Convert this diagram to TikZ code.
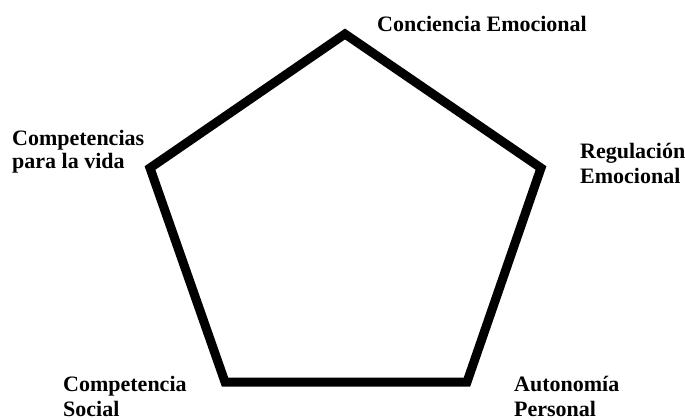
\documentclass[tikz,border=0pt]{standalone}
\usepackage{fontspec}
\setmainfont{Liberation Serif}
\usetikzlibrary{calc}

\begin{document}
\begin{tikzpicture}[x=1pt,y=-1pt,
  side/.style={draw=black,line width=9pt,line join=miter},
  lbl/.style={anchor=base west,inner sep=0pt,align=left,
    font=\fontsize{22}{25}\selectfont\bfseries}]
 \useasboundingbox (0,0) rectangle (685,420);
 % vertices of the pentagon
 \coordinate (top) at (345,34);
 \coordinate (rgt) at (541,168);
 \coordinate (brt) at (467,382);
 \coordinate (blt) at (225,382);
 \coordinate (lft) at (150,168);
 \draw[side] (top)--(rgt)--(brt)--(blt)--(lft)--cycle;
 % labels (base = last line)
 \node[lbl] (conc) at (377,32) {Conciencia Emocional};
 \node[lbl] (regu) at (580,183) {Regulación\\Emocional};
 \node[lbl] (auto) at (514,416) {Autonomía\\Personal};
 \node[lbl] (soci) at (63,416) {Competencia\\Social};
 \node[lbl] (vida) at (12,168) {Competencias\\[-2pt]para la vida};
\end{tikzpicture}
\end{document}
